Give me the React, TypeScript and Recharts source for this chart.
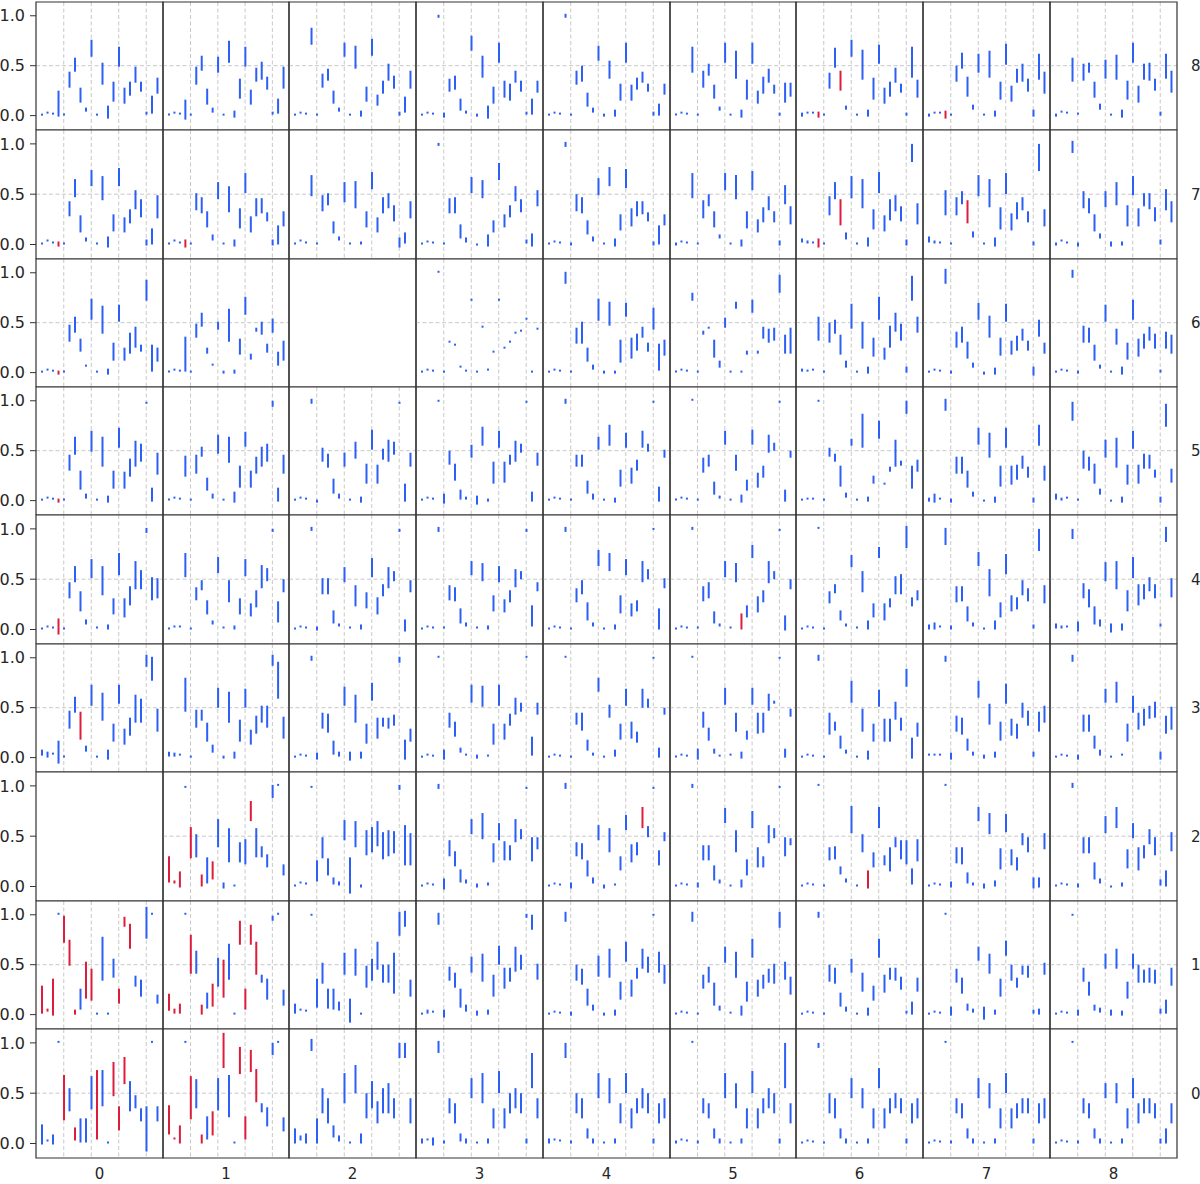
import React from "react";
import {
  ComposedChart,
  Bar,
  Cell,
  XAxis,
  YAxis,
  CartesianGrid,
  ReferenceArea,
} from "recharts";

// a value is either a single point or a [high, low] pair
type V = number | [number, number];

const POSITIONS = [0, 1, 2, 3, 4, 5, 6, 7, 8, 9, 10, 11, 12, 13, 14, 15, 16, 17, 18, 19, 20, 21];
const ROW_LABELS = ["8", "7", "6", "5", "4", "3", "2", "1", "0"];
const COL_LABELS = ["0", "1", "2", "3", "4", "5", "6", "7", "8"];
const Y_TICKS = [0, 0.5, 1];
const GRID_X = [4, 9, 14, 19];
const GRID_Y = [0.5];

const ROW8: (V[] | null)[] = [
  [0, .02, .01, [.25, -.01], 0, [.44, .28], [.58, .44], [.28, .13], [.08, .04], [.76, .59], 0, [.53, .31], [.10, -.03], [.34, .14], [.69, .49], [.28, .12], [.34, .20], [.49, .33], [.34, .24], [.04, .01], [.20, .02], [.38, .22]],
  [0, .02, .01, [.16, -.04], 0, [.49, .31], [.60, .45], [.27, .11], [.08, .03], [.59, .43], 0, [.75, .53], [.05, -.02], [.37, .17], [.69, .49], [.26, .11], [.48, .34], [.54, .36], [.39, .26], [.04, .01], [.17, .02], [.49, .27]],
  [0, .02, .01, [.88, .71], 0, [.42, .28], [.47, .35], [.25, .12], [.08, .04], [.73, .59], 0, [.70, .47], [.05, -.01], [.29, .14], [.77, .60], [.21, .10], [.35, .22], [.52, .35], [.40, .27], [.04, 0], [.19, .03], [.45, .27]],
  [0, .02, .01, [1.01, .98], [.03, -.02], [.37, .24], [.40, .26], [.17, .05], [.05, .02], [.80, .65], [.02, -.01], [.60, .38], [.10, -.03], [.29, .12], [.73, .53], [.35, .18], [.32, .15], [.45, .33], [.35, .24], [.04, .01], [.17, .01], [.35, .23]],
  [0, .02, .01, [1.02, .98], 0, [.45, .31], [.50, .34], [.23, .09], [.08, .03], [.70, .55], [.02, -.01], [.55, .37], [.06, -.01], [.32, .15], [.73, .53], [.31, .15], [.38, .26], [.44, .33], [.32, .24], [.04, 0], [.12, 0], [.32, .21]],
  [0, .02, .01, [.69, .43], 0, [.45, .28], [.52, .40], [.31, .17], [.09, .05], [.73, .53], 0, [.65, .37], [.06, -.02], [.36, .16], [.73, .52], [.25, .12], [.39, .22], [.47, .33], [.31, .22], [.03, 0], [.33, .13], [.33, .19]],
  [[.03, -.01], [.04, .02], .02, [.04, -.02], 0, [.43, .27], [.68, .48], [.45, .25], [.10, .06], [.76, .59], 0, [.66, .36], [.06, -.01], [.38, .16], [.71, .52], [.28, .12], [.34, .19], [.48, .33], [.32, .23], [.03, 0], [.69, .38], [.36, .18]],
  [[.02, -.01], [.03, .02], .02, [.05, -.03], 0, [.50, .34], [.63, .47], [.39, .19], [.11, .06], [.62, .43], 0, [.65, .38], [.05, -.01], [.34, .16], [.72, .51], [.30, .14], [.47, .33], [.52, .34], [.37, .24], [.06, -.01], [.62, .36], [.44, .22]],
  [[.02, -.01], .03, .02, [.58, .34], .01, [.52, .35], [.53, .43], [.34, .18], [.12, .06], [.56, .37], 0, [.61, .36], [.06, -.02], [.35, .16], [.73, .53], [.30, .13], [.52, .36], [.53, .35], [.37, .25], [.04, 0], [.62, .37], [.45, .23]],
];

const ROW7: (V[] | null)[] = [
  [0, .03, .01, [.03, -.02], 0, [.43, .28], [.65, .47], [.29, .12], [.07, .03], [.74, .58], 0, [.68, .44], [.08, -.03], [.30, .13], [.76, .58], [.27, .12], [.35, .21], [.54, .35], [.45, .27], [.05, -.01], [.16, 0], [.49, .26]],
  [0, .03, .01, [.05, -.03], 0, [.51, .34], [.47, .31], [.33, .17], [.10, .04], [.62, .45], 0, [.58, .32], [.05, -.02], [.36, .16], [.71, .51], [.28, .12], [.46, .28], [.46, .31], [.32, .23], [.05, -.01], [.19, 0], [.33, .18]],
  [0, .03, .01, [.69, .48], 0, [.49, .33], [.51, .39], [.23, .11], [.08, .04], [.62, .42], 0, [.63, .36], [.03, 0], [.33, .17], [.72, .55], [.27, .12], [.47, .31], [.51, .36], [.39, .23], [.07, -.03], [.12, .01], [.43, .26]],
  [0, .02, .01, [1.01, .98], 0, [.46, .31], [.47, .31], [.20, .06], [.07, .02], [.67, .51], [.01, -.01], [.64, .46], [.10, -.02], [.24, .12], [.81, .64], [.30, .17], [.39, .27], [.58, .43], [.45, .32], [.05, .01], [.11, -.02], [.54, .38]],
  [0, .02, .01, [1.02, .97], [.02, -.01], [.50, .33], [.47, .31], [.24, .10], [.08, .03], [.66, .49], 0, [.77, .58], [.06, -.02], [.30, .14], [.75, .56], [.36, .18], [.43, .28], [.43, .30], [.32, .23], [.03, -.01], [.19, 0], [.30, .19]],
  [[.02, -.01], .02, .01, [.71, .46], 0, [.44, .26], [.50, .38], [.33, .17], [.10, .06], [.71, .54], 0, [.69, .45], [.05, -.02], [.33, .16], [.73, .54], [.25, .12], [.37, .22], [.48, .34], [.33, .22], [.04, -.01], [.59, .40], [.38, .20]],
  [[.06, .02], [.04, .01], [.03, .01], [.06, -.03], 0, [.48, .29], [.62, .45], [.45, .19], [.12, .05], [.68, .46], 0, [.65, .36], [.07, -.02], [.35, .15], [.72, .51], [.29, .13], [.45, .24], [.49, .33], [.38, .23], [.05, -.01], [1.0, .82], [.41, .20]],
  [[.08, .02], [.04, .01], [.03, .01], [.54, .29], 0, [.47, .29], [.53, .40], [.44, .21], [.13, .07], [.69, .48], 0, [.65, .37], [.07, -.02], [.37, .15], [.71, .50], [.31, .14], [.42, .25], [.47, .34], [.33, .22], [.03, -.01], [1.0, .73], [.35, .18]],
  [[.02, -.01], .03, .01, [1.03, .91], [.02, -.02], [.53, .36], [.46, .31], [.30, .13], [.11, .06], [.53, .37], [.03, -.02], [.62, .39], [.03, -.01], [.39, .18], [.68, .49], [.36, .18], [.51, .38], [.51, .35], [.37, .23], [.05, 0], [.55, .34], [.43, .22]],
];

const ROW6: (V[] | null)[] = [
  [0, .02, .01, [.02, -.02], 0, [.48, .31], [.56, .40], [.34, .21], [.08, .06], [.74, .53], 0, [.67, .39], [.04, -.02], [.30, .12], [.68, .51], [.25, .12], [.40, .19], [.46, .25], [.28, .21], [.93, .72], [.28, .01], [.25, .11]],
  [0, .02, .01, [.36, .01], 0, [.49, .35], [.60, .46], [.25, .19], [.09, .07], [.51, .43], [.02, -.01], [.64, .31], [.03, -.01], [.34, .18], [.76, .58], [.19, .13], [.45, .41], [.51, .38], [.29, .20], [.54, .40], [.21, .07], [.32, .12]],
  null,
  [0, .02, .01, 1.0, 0, .30, .27, .05, .01, .72, 0, .45, .02, .20, .72, .24, .30, .39, .41, .53, 0, .43],
  [0, .02, .01, [1.01, .89], 0, [.45, .29], [.51, .29], [.25, .11], [.08, .03], [.74, .52], [.02, -.01], [.71, .47], [.02, -.01], [.33, .10], [.70, .56], [.35, .14], [.39, .22], [.46, .35], [.30, .21], [.65, .43], [.29, .02], [.33, .17]],
  [0, .02, .01, [.80, .72], 0, [.42, .38], [.45, .44], [.33, .15], [.12, .05], [.55, .45], 0, [.71, .64], [.02, 0], [.22, .18], [.73, .60], [.22, .19], [.46, .34], [.44, .30], [.45, .32], [.98, .80], [.38, .19], [.45, .19]],
  [[.04, .01], [.03, .01], .02, [.56, .32], 0, [.50, .30], [.53, .39], [.38, .18], [.12, .05], [.69, .44], 0, [.51, .24], [.06, -.01], [.35, .16], [.76, .53], [.25, .13], [.47, .25], [.60, .41], [.49, .32], [.06, 0], [.97, .72], [.56, .40]],
  [0, .02, .01, [1.04, .89], [.02, -.01], [.41, .25], [.46, .30], [.31, .14], [.10, .05], [.70, .53], [.01, -.02], [.57, .35], [.05, -.02], [.35, .17], [.69, .51], [.32, .18], [.37, .22], [.44, .32], [.32, .22], [.06, -.03], [.53, .36], [.30, .19]],
  [0, .02, .01, [1.03, .95], [.02, -.01], [.47, .30], [.45, .30], [.28, .12], [.08, .04], [.68, .51], 0, [.44, .28], [.06, -.02], [.30, .13], [.73, .53], [.34, .16], [.39, .24], [.46, .32], [.39, .24], [.03, 0], [.41, .24], [.38, .19]],
];

const ROW5: (V[] | null)[] = [
  [0, .02, .01, [.02, -.02], 0, [.46, .30], [.64, .46], [.30, .11], [.07, .02], [.70, .49], 0, [.64, .34], [.05, -.02], [.30, .12], [.73, .53], [.29, .12], [.42, .24], [.60, .34], [.57, .39], [.99, .97], [.13, -.01], [.48, .26]],
  [0, .02, .01, [.45, .24], 0, [.46, .27], [.54, .44], [.23, .10], [.07, .02], [.66, .47], 0, [.64, .38], [.09, -.02], [.35, .13], [.69, .54], [.30, .13], [.44, .27], [.54, .34], [.57, .39], [1.0, .94], [.13, -.01], [.46, .27]],
  [0, .02, .01, [1.02, .97], [.01, -.02], [.53, .39], [.47, .33], [.22, .07], [.07, .02], [.48, .34], 0, [.59, .42], [.04, -.02], [.37, .17], [.71, .51], [.36, .17], [.52, .41], [.61, .39], [.59, .46], [.98, .97], [.17, -.01], [.48, .34]],
  [0, .02, .01, .99, [.07, -.03], [.50, .36], [.37, .20], [.11, .01], [.04, .01], [.56, .43], [.05, -.04], [.74, .55], [.02, -.01], [.39, .17], [.70, .53], [.39, .18], [.46, .36], [.60, .39], [.57, .48], .98, [.09, -.01], [.48, .35]],
  [0, .02, .01, [1.02, .97], 0, [.46, .34], [.46, .34], [.20, .07], [.07, .01], [.64, .51], 0, [.76, .55], [.03, -.02], [.31, .14], [.68, .53], [.33, .17], [.41, .30], [.70, .53], [.57, .49], .98, [.14, -.01], [.51, .43]],
  [0, .02, .01, 1.0, 0, [.43, .28], [.46, .34], [.19, .06], [.05, .02], [.70, .56], 0, [.46, .30], [.06, -.02], [.21, .10], [.71, .56], [.28, .13], [.35, .23], [.66, .48], [.58, .50], .98, [.11, -.01], [.50, .43]],
  [0, .01, .01, .99, 0, [.53, .44], [.47, .39], [.35, .14], [.08, .03], [.62, .55], 0, [.87, .53], [.04, -.01], [.25, .17], [.80, .62], [.18, .16], [.34, .29], [.61, .34], [.40, .35], [1.0, .87], [.35, .12], [.41, .29]],
  [[.03, -.01], [.07, -.02], .01, [1.02, .90], [.02, -.02], [.44, .27], [.44, .27], [.30, .13], [.09, .04], [.73, .56], [.01, -.01], [.68, .43], [.04, -.02], [.35, .14], [.73, .53], [.35, .16], [.36, .21], [.45, .32], [.34, .23], [.03, -.02], [.76, .55], [.35, .20]],
  [[.07, .01], [.03, 0], .02, [.99, .80], 0, [.50, .32], [.44, .30], [.37, .17], [.12, .06], [.61, .43], [.01, -.01], [.63, .33], [.04, -.02], [.36, .16], [.70, .52], [.36, .17], [.47, .32], [.46, .32], [.31, .23], [.04, -.02], [.97, .74], [.32, .18]],
];

const ROW4: (V[] | null)[] = [
  [0, .02, .01, [.11, -.05], 0, [.47, .31], [.63, .47], [.38, .18], [.10, .05], [.70, .51], .01, [.63, .34], [.05, 0], [.31, .15], [.76, .54], [.31, .12], [.43, .24], [.68, .40], [.59, .40], [1.01, .96], [.52, .29], [.51, .31]],
  [0, .02, .02, [.76, .52], 0, [.42, .29], [.49, .39], [.29, .15], [.09, .05], [.72, .56], .01, [.49, .27], [.04, 0], [.31, .15], [.70, .53], [.26, .13], [.39, .22], [.64, .41], [.61, .48], [1.0, .97], [.28, .07], [.50, .37]],
  [0, .02, .01, [1.02, .98], [.03, -.01], [.51, .35], [.51, .35], [.19, .06], [.06, .03], [.62, .47], .01, [.44, .23], [.05, 0], [.37, .21], [.71, .52], [.32, .15], [.45, .33], [.62, .41], [.58, .48], [1.0, .97], [.10, -.02], [.49, .37]],
  [0, .02, .01, [1.02, .97], .01, [.44, .29], [.42, .28], [.21, .06], [.07, .03], [.68, .54], .01, [.66, .48], [.04, 0], [.34, .18], [.63, .47], [.30, .17], [.39, .27], [.60, .42], [.58, .50], [1.0, .97], [.24, .03], [.47, .38]],
  [0, .02, .01, [1.02, .97], [.01, 0], [.41, .27], [.49, .35], [.27, .09], [.07, .03], [.79, .63], [.02, 0], [.76, .58], [.05, 0], [.34, .16], [.70, .54], [.26, .13], [.29, .18], [.68, .47], [.60, .50], .99, [.21, 0], [.51, .41]],
  [0, .02, .01, [1.02, .99], .01, [.43, .28], [.47, .31], [.18, .06], [.06, .03], [.68, .52], .01, [.66, .47], [.16, 0], [.24, .12], [.84, .71], [.33, .17], [.39, .27], [.68, .46], [.58, .50], [1.0, .98], [.14, -.01], [.50, .40]],
  [0, .02, .01, 1.0, 0, [.38, .26], [.45, .36], [.19, .09], [.06, .03], [.74, .62], .01, [.58, .37], [.09, 0], [.26, .12], [.82, .71], [.26, .09], [.31, .22], [.53, .35], [.55, .35], [1.03, .81], [.32, .23], [.39, .29]],
  [[.05, 0], [.07, 0], .02, [1.01, .84], [.04, 0], [.43, .27], [.43, .28], [.23, .08], [.07, .03], [.77, .63], [.02, 0], [.60, .33], [.09, 0], [.27, .12], [.75, .55], [.34, .18], [.32, .20], [.49, .34], [.41, .28], [.05, .01], [1.0, .78], [.44, .26]],
  [[.06, .01], [.04, .01], .02, [1.0, .90], [.08, -.02], [.46, .31], [.40, .22], [.23, .05], [.10, .03], [.67, .48], [.06, -.03], [.68, .40], [.06, -.01], [.39, .18], [.72, .51], [.45, .24], [.45, .30], [.52, .38], [.45, .31], [.06, .03], [1.02, .87], [.51, .32]],
];

const ROW3: (V[] | null)[] = [
  [[.08, .02], [.06, 0], .03, [.17, -.06], 0, [.47, .29], [.61, .45], [.46, .18], [.12, .06], [.73, .52], 0, [.65, .37], [.08, -.02], [.34, .16], [.73, .54], [.29, .13], [.40, .22], [.63, .35], [.59, .35], [1.03, .91], [1.01, .77], [.49, .26]],
  [[.06, .01], [.05, .01], .02, [.80, .46], 0, [.48, .30], [.48, .37], [.35, .16], [.13, .05], [.70, .50], [.02, -.01], [.66, .35], [.06, -.01], [.38, .16], [.69, .50], [.28, .13], [.42, .24], [.52, .35], [.52, .30], [1.03, .92], [.96, .59], [.41, .19]],
  [0, .02, .01, [1.02, .97], [.05, -.02], [.45, .29], [.44, .25], [.17, .03], [.06, .01], [.71, .52], [.06, -.03], [.63, .35], [.06, -.01], [.34, .14], [.75, .57], [.40, .19], [.40, .31], [.40, .29], [.43, .32], [1.01, .95], [.18, -.02], [.29, .16]],
  [0, .02, .01, 1.0, [.08, -.02], [.45, .30], [.36, .21], [.10, .05], [.04, .02], [.73, .55], [.03, -.01], [.72, .51], [.03, .01], [.34, .13], [.73, .52], [.34, .18], [.44, .32], [.60, .43], [.55, .46], 1.0, [.21, .02], [.55, .43]],
  [0, .02, .01, 1.0, [.02, 0], [.45, .33], [.45, .27], [.18, .07], [.05, .02], [.80, .66], [.02, 0], [.53, .40], [.08, .01], [.34, .18], [.69, .52], [.36, .19], [.26, .15], [.69, .50], [.59, .50], .99, [.10, 0], [.50, .43]],
  [0, .02, .01, 1.0, [.09, -.02], [.46, .30], [.30, .17], [.09, .04], [.03, .01], [.70, .53], .02, [.45, .26], [.06, -.01], [.27, .18], [.70, .53], [.45, .24], [.45, .25], [.64, .47], [.57, .54], .99, [.09, 0], [.49, .41]],
  [0, .02, .01, [1.03, .97], 0, [.45, .23], [.36, .27], [.22, .09], [.08, .04], [.77, .55], 0, [.49, .26], [.07, -.02], [.34, .16], [.68, .51], [.39, .16], [.39, .16], [.56, .38], [.40, .27], [.89, .71], [.20, -.01], [.35, .21]],
  [.02, .02, .02, [1.02, .96], [.05, -.02], [.42, .26], [.40, .23], [.19, .07], [.06, .02], [.77, .60], [.03, -.01], [.54, .33], [.06, 0], [.36, .17], [.74, .54], [.39, .22], [.34, .19], [.55, .40], [.47, .32], [.06, .01], [.46, .26], [.52, .35]],
  [0, .02, .01, [1.03, .96], [.03, -.02], [.43, .26], [.43, .26], [.22, .09], [.08, .02], [.69, .55], 0, [.76, .55], .02, [.34, .16], [.62, .45], [.45, .28], [.49, .32], [.52, .39], [.56, .40], [.06, -.02], [.42, .24], [.51, .28]],
];

const ROW2: (V[] | null)[] = [
  null,
  [[.30, .04], [.06, .03], [.15, -.01], [1.0, .98], [.59, .28], [.52, .29], [.12, 0], [.29, .03], [.25, .07], [.67, .39], [.04, -.02], [.58, .24], 0, [.44, .24], [.47, .22], [.85, .65], [.58, .29], [.40, .29], [.32, .19], [1.01, .88], 1.0, [.22, .11]],
  [0, .03, .02, [1.0, .98], [.26, .05], [.49, .28], [.28, .11], [.09, .02], [.05, .01], [.66, .46], [.29, -.07], [.65, .39], [.02, -.01], [.56, .31], [.59, .34], [.65, .40], [.54, .27], [.56, .30], [.55, .33], [1.01, .96], [.61, .21], [.53, .21]],
  [0, .02, .01, [1.02, .97], [.08, -.03], [.46, .30], [.35, .20], [.17, .04], [.07, .03], [.67, .52], [.03, -.01], [.73, .47], [.04, .01], [.43, .24], [.63, .46], [.45, .26], [.41, .26], [.67, .44], [.57, .47], [.99, .97], [.49, .25], [.49, .37]],
  [0, .02, .01, [1.03, .97], [.04, -.02], [.44, .30], [.43, .27], [.26, .10], [.09, .03], [.61, .46], [.02, -.02], [.58, .34], [.03, .01], [.30, .16], [.71, .56], [.42, .24], [.44, .31], [.79, .58], [.60, .49], [.99, .97], [.36, .21], [.54, .45]],
  [0, .02, .01, [1.02, .98], [.04, -.01], [.41, .26], [.41, .26], [.21, .06], [.07, .03], [.78, .63], 0, [.56, .34], [.07, -.01], [.27, .11], [.75, .58], [.39, .19], [.30, .19], [.61, .43], [.58, .48], [1.0, .98], [.49, .30], [.48, .41]],
  [0, .02, .01, 1.0, 0, [.39, .26], [.40, .27], [.20, .12], [.08, .04], [.80, .53], 0, [.52, .34], [.16, -.02], [.34, .19], [.79, .58], [.31, .21], [.39, .15], [.49, .39], [.46, .27], [.46, .22], [.18, .02], [.47, .25]],
  [0, .02, .01, 1.0, [.05, -.01], [.39, .23], [.39, .22], [.14, .03], [.04, .01], [.79, .65], [.03, -.02], [.73, .52], [.06, 0], [.38, .17], [.72, .54], [.37, .21], [.29, .16], [.53, .41], [.49, .34], [.09, -.02], [.09, -.01], [.53, .37]],
  [0, .02, .01, [1.03, .98], [.03, -.01], [.49, .33], [.49, .33], [.24, .07], [.08, .03], [.70, .53], [.01, -.01], [.79, .58], [.04, 0], [.37, .18], [.63, .48], [.39, .16], [.41, .28], [.57, .42], [.49, .31], [.07, .01], [.16, 0], [.54, .35]],
];

const ROW1: (V[] | null)[] = [
  [[.29, .01], [.06, .03], [.36, -.01], 1.0, [.99, .72], [.75, .49], [.05, 0], [.26, .05], [.53, .16], [.46, .14], 0, [.78, .34], 0, [.56, .37], [.26, .11], [.98, .88], [.91, .66], [.39, .28], [.35, .18], [1.08, .76], 1.0, [.20, .11]],
  [[.21, .04], [.06, .01], [.11, .01], 1.0, [.80, .41], [.64, .41], [.10, 0], [.22, .06], [.31, .08], [.57, .28], [.55, .17], [.71, .35], 0, [.94, .70], [.26, .05], [.90, .70], [.73, .40], [.40, .32], [.36, .15], [.99, .94], 1.0, [.25, .09]],
  [[.11, .01], .04, .03, .99, [.36, .07], [.52, .31], [.26, .06], [.26, .05], [.13, .04], [.62, .40], [.16, -.08], [.66, .39], 0, [.49, .27], [.56, .34], [.73, .45], [.50, .32], [.50, .32], [.62, .21], [1.03, .79], [1.04, .88], [.35, .18]],
  [[.02, 0], [.05, .01], .02, [1.02, .90], [.05, -.03], [.48, .34], [.42, .27], [.26, .07], [.10, .03], [.58, .42], [.04, -.01], [.61, .33], [.05, 0], [.40, .18], [.69, .50], [.47, .26], [.47, .33], [.68, .43], [.60, .45], [1.01, .97], [1.0, .85], [.51, .35]],
  [0, .02, .01, [1.03, .93], [.03, -.01], [.50, .34], [.46, .30], [.26, .09], [.10, .04], [.59, .38], [.02, -.01], [.66, .37], [.05, -.01], [.33, .15], [.73, .53], [.35, .18], [.47, .36], [.66, .46], [.58, .42], .99, [.63, .42], [.50, .31]],
  [0, .02, .01, [1.03, .93], 0, [.40, .26], [.48, .32], [.32, .09], [.09, .04], [.68, .52], .01, [.63, .37], [.09, -.01], [.33, .13], [.76, .57], [.35, .18], [.40, .26], [.46, .32], [.51, .31], [1.03, .87], [.53, .35], [.38, .20]],
  [0, .02, .01, [1.03, .97], 0, [.50, .33], [.47, .31], [.22, .08], [.08, .03], [.56, .42], 0, [.42, .23], [.07, -.01], [.29, .14], [.76, .57], [.40, .22], [.47, .35], [.47, .34], [.38, .25], [.04, .01], [.13, 0], [.37, .23]],
  [0, .02, .01, 1.0, [.08, -.01], [.46, .32], [.37, .21], [.11, .04], [.06, .02], [.68, .54], [.08, -.05], [.61, .41], [.05, 0], [.36, .18], [.74, .59], [.50, .34], [.37, .27], [.49, .40], [.49, .37], [.05, .01], [.06, 0], [.52, .40]],
  [0, .02, .01, [1.01, .99], [.05, -.01], [.47, .33], [.33, .19], [.10, .04], [.07, .02], [.61, .46], [.05, -.01], [.66, .46], [.04, -.01], [.33, .16], [.61, .46], [.50, .32], [.45, .32], [.47, .32], [.45, .31], [.06, .01], [.15, .01], [.47, .29]],
];

const ROW0: (V[] | null)[] = [
  [[.19, -.01], [.04, .02], [.09, -.01], 1.0, [.68, .23], [.55, .32], [.16, .03], [.25, .01], [.25, .01], [.67, .34], [.73, .04], [.73, .37], 0, [.81, .47], [.37, .13], [.86, .59], [.62, .32], [.48, .35], [.35, .22], [.37, -.08], 1.0, [.37, .22]],
  [[.38, .09], [.06, .04], [.18, 0], 1.0, [.67, .24], [.64, .35], [.09, 0], [.27, .04], [.32, .08], [.65, .33], [1.10, .75], [.68, .26], 0, [.96, .69], [.27, .04], [.93, .71], [.74, .41], [.40, .31], [.36, .17], [1.0, .88], 1.0, [.26, .12]],
  [[.15, 0], [.08, .03], [.10, 0], [1.04, .92], [.25, 0], [.55, .30], [.45, .20], [.18, .06], [.08, .02], [.70, .40], 0, [.78, .50], [.10, 0], [.50, .25], [.62, .35], [.42, .20], [.55, .30], [.60, .30], [.45, .25], [1.0, .85], [1.0, .85], [.45, .20]],
  [[.05, 0], .03, [.06, -.02], [1.02, .90], [.03, 0], [.45, .30], [.40, .20], [.10, .02], [.05, 0], [.65, .45], 0, [.70, .40], [.05, 0], [.35, .15], [.72, .50], [.35, .15], [.50, .30], [.55, .35], [.50, .30], [.05, 0], [.90, .55], [.45, .25]],
  [[.05, 0], .03, .02, [1.0, .85], [.03, 0], [.50, .30], [.45, .25], [.15, .05], [.05, 0], [.70, .45], 0, [.65, .40], [.05, 0], [.40, .20], [.70, .50], [.35, .15], [.45, .30], [.55, .35], [.50, .30], [.05, 0], [.40, .20], [.45, .25]],
  [[.03, 0], .03, .02, 1.0, [.03, 0], [.45, .30], [.40, .25], [.15, .05], [.05, 0], [.70, .45], 0, [.60, .35], [.05, 0], [.35, .15], [.72, .50], [.35, .15], [.45, .30], [.55, .35], [.50, .30], [.05, 0], [1.0, .55], [.40, .20]],
  [0, .02, .01, [1.0, .95], 0, [.50, .30], [.45, .25], [.15, .05], [.05, 0], [.65, .45], 0, [.55, .35], [.05, 0], [.35, .15], [.75, .55], [.35, .15], [.45, .30], [.50, .35], [.45, .30], [.05, 0], [.40, .20], [.45, .25]],
  [0, .02, .01, 1.0, [.03, 0], [.45, .30], [.40, .25], [.15, .05], [.05, 0], [.65, .45], 0, [.60, .35], [.05, 0], [.35, .15], [.70, .50], [.35, .15], [.40, .25], [.45, .30], [.45, .30], [.05, 0], [.40, .20], [.45, .25]],
  [0, .02, .01, 1.0, [.03, 0], [.45, .30], [.40, .25], [.15, .05], [.05, 0], [.60, .45], 0, [.60, .40], [.05, 0], [.35, .15], [.65, .45], [.40, .20], [.45, .30], [.45, .30], [.40, .25], [.05, 0], [.15, 0], [.40, .20]],
];

const ROWS = [ROW8, ROW7, ROW6, ROW5, ROW4, ROW3, ROW2, ROW1, ROW0];

// red bars: [row label, column, bar indices]
const RED: [number, number, number[]][] = [
  [8, 6, [3, 7]],
  [8, 7, [3]],
  [7, 0, [3]],
  [7, 1, [3]],
  [7, 6, [3, 7]],
  [7, 7, [7]],
  [6, 0, [3]],
  [5, 0, [3]],
  [4, 0, [3]],
  [4, 5, [12]],
  [3, 0, [7]],
  [2, 1, [0, 1, 2, 4, 6, 8, 15]],
  [2, 4, [17]],
  [2, 6, [12]],
  [1, 0, [0, 1, 2, 4, 5, 6, 8, 9, 14, 15, 16]],
  [1, 1, [0, 1, 2, 4, 6, 8, 10, 13, 14, 15, 16]],
  [0, 0, [4, 6, 10, 13, 14, 15]],
  [0, 1, [0, 1, 2, 4, 6, 8, 10, 13, 14, 15, 16]],
];

const BLUE = "#2b5ff5";
const CRIMSON = "#dc1e3c";
const FRAME = "#333333";
const GRID = "#c8c8c8";
const X_MIN = -1.05;
const X_MAX = 22.05;
const Y_MIN = -0.144;
const Y_MAX = 1.138;
const FONT = "'DejaVu Sans', sans-serif";

const XS = Array.from({ length: 10 }, (_, c) => Math.round(36 + c * 126.74));
const YS = Array.from({ length: 10 }, (_, r) => Math.round(1.7 + r * 128.44));

function redFor(rowLabel: number, col: number): number[] {
  const hit = RED.find((e) => e[0] === rowLabel && e[1] === col);
  return hit ? hit[2] : [];
}

function Panel({ r, c }: { r: number; c: number }) {
  const values = ROWS[r][c];
  const rowLabel = 8 - r;
  const reds = redFor(rowLabel, c);
  const bottom = r === 8;
  const L = c === 0 ? 36 : 8;
  const B = bottom ? 8 : 0;
  const w = XS[c + 1] - XS[c];
  const h = YS[r + 1] - YS[r];
  const data = values
    ? POSITIONS.map((x, i) => {
        const v = values[i];
        const pair = Array.isArray(v) ? v : [v, v];
        return {
          x,
          range: [Math.min(pair[0], pair[1]), Math.max(pair[0], pair[1])],
          red: reds.includes(i),
        };
      })
    : [];

  // grid lines sit behind the bars; positions come from the axis scales
  const vGen = ({ xAxis, offset }: any) =>
    GRID_X.map((gx) =>
      xAxis && typeof xAxis.scale === "function"
        ? xAxis.scale(gx)
        : offset.left + ((gx - X_MIN) / (X_MAX - X_MIN)) * offset.width
    );
  const hGen = ({ yAxis, offset }: any) =>
    GRID_Y.map((gy) =>
      yAxis && typeof yAxis.scale === "function"
        ? yAxis.scale(gy)
        : offset.top + ((Y_MAX - gy) / (Y_MAX - Y_MIN)) * offset.height
    );

  return (
    <div style={{ position: "absolute", left: XS[c] - L, top: YS[r] - 1 }}>
      <ComposedChart
        width={w + L + 1}
        height={h + B + 1}
        data={data}
        margin={{ top: 1, right: 1, bottom: 0, left: 0 }}
      >
        {values && (
          <CartesianGrid
            stroke={GRID}
            strokeDasharray="4 2.5"
            verticalCoordinatesGenerator={vGen}
            horizontalCoordinatesGenerator={hGen}
          />
        )}
        <XAxis
          type="number"
          dataKey="x"
          domain={[X_MIN, X_MAX]}
          ticks={POSITIONS}
          allowDataOverflow
          hide={!bottom}
          height={B}
          tick={false}
          tickSize={5}
          axisLine={false}
          tickLine={{ stroke: FRAME }}
        />
        <YAxis
          type="number"
          domain={[Y_MIN, Y_MAX]}
          ticks={Y_TICKS}
          allowDataOverflow
          width={L}
          tickSize={6}
          tickMargin={5}
          axisLine={false}
          tickLine={{ stroke: FRAME }}
          tickFormatter={(v: number) => v.toFixed(1)}
          tick={c === 0 ? { fontSize: 16, fill: "#262626", fontFamily: FONT } : false}
        />
        {values && (
          <Bar dataKey="range" barSize={2} minPointSize={2} isAnimationActive={false}>
            {data.map((d, i) => (
              <Cell key={i} fill={d.red ? CRIMSON : BLUE} />
            ))}
          </Bar>
        )}
        <ReferenceArea
          x1={X_MIN}
          x2={X_MAX}
          y1={Y_MIN}
          y2={Y_MAX}
          fill="none"
          fillOpacity={0}
          stroke={FRAME}
          strokeWidth={1.2}
        />
      </ComposedChart>
    </div>
  );
}

export default function App() {
  const labelStyle: React.CSSProperties = {
    position: "absolute",
    fontFamily: FONT,
    fontSize: 15,
    lineHeight: "12px",
    color: "#262626",
  };
  return (
    <div
      style={{
        position: "absolute",
        left: 0,
        top: 0,
        width: 1200,
        height: 1184,
        background: "#fff",
        overflow: "hidden",
      }}
    >
      {ROWS.map((row, r) => row.map((_, c) => <Panel key={`${r}-${c}`} r={r} c={c} />))}
      {ROW_LABELS.map((lab, r) => (
        <div
          key={`row-${lab}`}
          style={{ ...labelStyle, left: 1191, top: (YS[r] + YS[r + 1]) / 2 - 6 }}
        >
          {lab}
        </div>
      ))}
      {COL_LABELS.map((lab, c) => (
        <div
          key={`col-${lab}`}
          style={{
            ...labelStyle,
            left: (XS[c] + XS[c + 1]) / 2 - 20,
            width: 40,
            textAlign: "center",
            top: 1168,
          }}
        >
          {lab}
        </div>
      ))}
    </div>
  );
}
